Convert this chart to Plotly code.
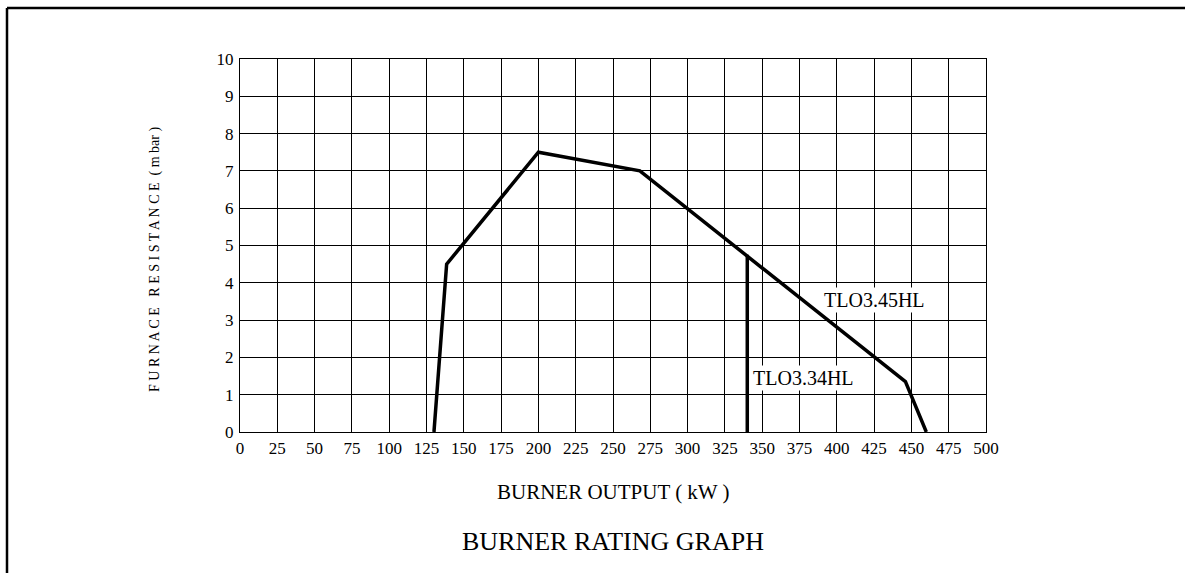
import plotly.graph_objects as go

# Data
tlo345_x = [130, 138.5, 200, 268, 446, 460]
tlo345_y = [0, 4.5, 7.5, 7.0, 1.35, 0]
tlo334_x = [340, 340]
tlo334_y = [0, 4.75]

x_ticks = [0, 25, 50, 75, 100, 125, 150, 175, 200, 225, 250, 275, 300, 325, 350, 375, 400, 425, 450, 475, 500]
y_ticks = [0, 1, 2, 3, 4, 5, 6, 7, 8, 9, 10]

series_labels = ["TLO3.45HL", "TLO3.34HL"]
label_pos = [(425, 3.55), (378, 1.45)]

W, H = 1185, 573
L, R, T, B = 240, 199, 59, 141
pw, ph = W - L - R, H - T - B

font_family = "Liberation Serif, Times New Roman, serif"

fig = go.Figure()
fig.add_trace(go.Scatter(x=tlo345_x, y=tlo345_y, mode="lines",
                         line=dict(color="black", width=3.5), showlegend=False, hoverinfo="skip"))
fig.add_trace(go.Scatter(x=tlo334_x, y=tlo334_y, mode="lines",
                         line=dict(color="black", width=3.5), showlegend=False, hoverinfo="skip"))

for txt, (lx, ly) in zip(series_labels, label_pos):
    fig.add_annotation(x=lx, y=ly, xref="x", yref="y", text=txt, showarrow=False,
                       bgcolor="white", font=dict(family=font_family, size=20, color="black"),
                       borderpad=1)

def px_x(p):
    return (p - L) / pw

def px_y(p):
    return 1 - (p - T) / ph

# frame (top and left)
fig.add_shape(type="line", xref="paper", yref="paper", x0=px_x(7), x1=px_x(1190), y0=px_y(8), y1=px_y(8),
              line=dict(color="black", width=2.5))
fig.add_shape(type="line", xref="paper", yref="paper", x0=px_x(7), x1=px_x(7), y0=px_y(8), y1=px_y(580),
              line=dict(color="black", width=2.5))

fig.add_annotation(x=0.5, y=px_y(492), xref="paper", yref="paper", text="BURNER OUTPUT ( kW )",
                   showarrow=False, xanchor="center", yanchor="middle",
                   font=dict(family=font_family, size=21, color="black"))
fig.add_annotation(x=0.5, y=px_y(541), xref="paper", yref="paper", text="BURNER RATING GRAPH",
                   showarrow=False, xanchor="center", yanchor="middle",
                   font=dict(family=font_family, size=26, color="black"))
fig.add_annotation(x=px_x(155), y=px_y(260), xref="paper", yref="paper",
                   text="F U R N A C E   R E S I S T A N C E  ( m bar )",
                   textangle=-90, showarrow=False, xanchor="center", yanchor="middle",
                   font=dict(family=font_family, size=14, color="black"))

fig.update_layout(
    width=W, height=H,
    margin=dict(l=L, r=R, t=T, b=B),
    paper_bgcolor="white", plot_bgcolor="white",
    font=dict(family=font_family, size=17, color="black"),
    xaxis=dict(range=[0, 500], tickmode="array", tickvals=x_ticks, ticktext=[str(v) for v in x_ticks],
               showgrid=True, gridcolor="black", gridwidth=1, zeroline=False,
               showline=True, linecolor="black", linewidth=1, mirror=True, ticks="", ticklabelstandoff=1),
    yaxis=dict(range=[0, 10], tickmode="array", tickvals=y_ticks, ticktext=[str(v) for v in y_ticks],
               showgrid=True, gridcolor="black", gridwidth=1, zeroline=False,
               showline=True, linecolor="black", linewidth=1, mirror=True, ticks="", ticklabelstandoff=2),
)

fig.write_html("out.html", config={"displayModeBar": False},
               post_script="document.body.style.margin='0';document.body.style.padding='0';")
